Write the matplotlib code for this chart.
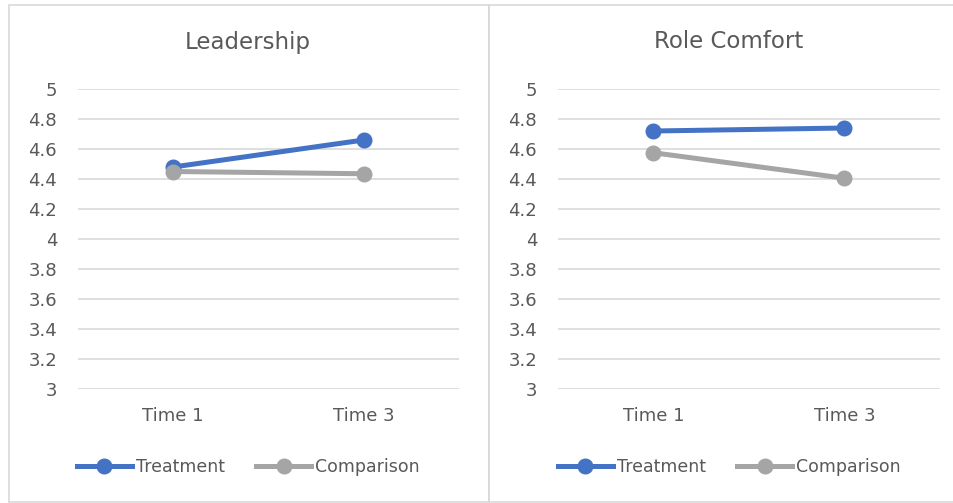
"""
    Two Excel-style line charts: Leadership and Role Comfort,
    Treatment vs Comparison at Time 1 and Time 3
"""
import matplotlib
matplotlib.use("Agg")
import matplotlib.pyplot as plt
from matplotlib.patches import Rectangle
from matplotlib.lines import Line2D

# =========================================================================== #
# Data
times = ["Time 1", "Time 3"]
titles = ["Leadership", "Role Comfort"]
treatment = [[4.48, 4.66], [4.72, 4.74]]
comparison = [[4.45, 4.435], [4.575, 4.405]]
series_names = ["Treatment", "Comparison"]
yticks = [3, 3.2, 3.4, 3.6, 3.8, 4, 4.2, 4.4, 4.6, 4.8, 5]
ytick_labels = ["3", "3.2", "3.4", "3.6", "3.8", "4", "4.2", "4.4",
                "4.6", "4.8", "5"]

# =========================================================================== #
W, H = 954, 503
blue = "#4472C4"
gray = "#A5A5A5"
text_col = "#595959"
grid_col = "#D9D9D9"
font = "DejaVu Sans"

fig = plt.figure(figsize=(W / 100, H / 100), dpi=100)
fig.patch.set_facecolor("white")


def px_box(x0, y0, x1, y1):
    # pixel box (top-left origin) -> figure fraction [l, b, w, h]
    return [x0 / W, 1 - y1 / H, (x1 - x0) / W, (y1 - y0) / H]


# Panel borders
for bx0, bx1 in [(9, 489), (489, 960)]:
    l, b, w, h = px_box(bx0, 5, bx1, 502)
    fig.patches.append(Rectangle((l, b), w, h, transform=fig.transFigure,
                                 fill=False, edgecolor=grid_col, lw=1.2))

panels = [(78, 459, 248), (558, 940, 729)]

for i, (x0, x1, cx) in enumerate(panels):
    ax = fig.add_axes(px_box(x0, 89, x1, 389))
    xs = [0, 1]
    ax.plot(xs, treatment[i], color=blue, lw=3.6, marker="o", ms=10.5,
            solid_capstyle="round", zorder=3)
    ax.plot(xs, comparison[i], color=gray, lw=3.6, marker="o", ms=10.5,
            solid_capstyle="round", zorder=3)
    ax.set_xlim(-0.5, 1.5)
    ax.set_ylim(3, 5)
    ax.set_yticks(yticks)
    ax.set_yticklabels(ytick_labels, fontsize=13, color=text_col,
                       family=font)
    ax.set_xticks(xs)
    ax.set_xticklabels(times, fontsize=13, color=text_col, family=font)
    ax.tick_params(length=0)
    ax.tick_params(axis="y", pad=15)
    ax.tick_params(axis="x", pad=13)
    ax.grid(axis="y", color=grid_col, lw=1.2)
    ax.set_axisbelow(True)
    for s in ax.spines.values():
        s.set_visible(False)
    ax.patch.set_alpha(0)

    fig.text(cx / W, 1 - 42 / H, titles[i], ha="center", va="center",
             fontsize=16.5, color=text_col, family=font)

    handles = [Line2D([], [], color=blue, lw=3.6, marker="o", ms=10.5),
               Line2D([], [], color=gray, lw=3.6, marker="o", ms=10.5)]
    fig.legend(handles, series_names, loc="center",
               bbox_to_anchor=(cx / W, 1 - 467 / H), ncol=2, frameon=False,
               prop={"family": font, "size": 12.5},
               labelcolor=text_col, handlelength=3.2, handletextpad=0.2,
               columnspacing=1.8)

plt.savefig("out.png", dpi=100)
